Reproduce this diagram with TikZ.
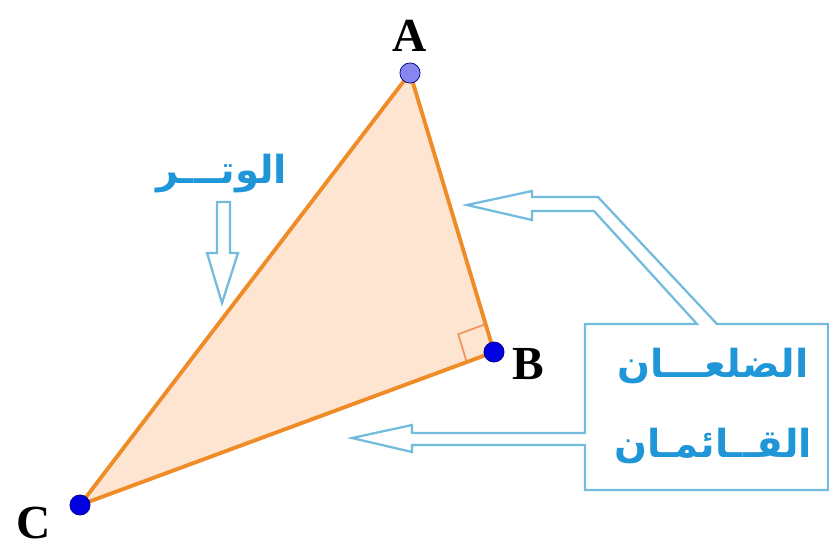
\documentclass[tikz,border=0pt]{standalone}
\usepackage{fontspec}
\setmainfont{Liberation Serif}
\newfontfamily\arabicfont[Script=Arabic]{DejaVu Sans}
\TeXXeTstate=1
\usetikzlibrary{calc}

\definecolor{sidecol}{RGB}{240,140,40}
\definecolor{fillcol}{RGB}{253,229,210}
\definecolor{markcol}{RGB}{240,150,90}
\definecolor{callcol}{RGB}{115,188,222}
\definecolor{textcol}{RGB}{30,150,215}
\definecolor{dotblue}{RGB}{0,0,225}
\definecolor{dotlav}{RGB}{135,135,240}

\begin{document}
\begin{tikzpicture}[x=0.02cm,y=-0.02cm,
  side/.style={draw=sidecol,line width=2.2pt,line join=round},
  vertex/.style={circle,inner sep=0pt,minimum size=11.5pt,draw=dotblue!60!black,line width=0.4pt},
  lbl/.style={font=\fontsize{27}{27}\selectfont\bfseries,inner sep=0pt},
  arab/.style={font=\fontsize{22}{46}\selectfont\arabicfont\bfseries,text=textcol,align=center,inner sep=0pt},
  callout/.style={draw=callcol,line width=1.3pt,line join=miter},
  rightmark/.style={draw=markcol,line width=1pt},
]
\useasboundingbox (0,0) rectangle (829,549);

\coordinate (a) at (410,73);
\coordinate (b) at (494,352);
\coordinate (c) at (80,505);

\fill[fillcol] (a) -- (b) -- (c) -- cycle;
\coordinate (mba) at ($(b)!0.1!(a)$);
\coordinate (mbc) at ($(b)!0.066!(c)$);
\draw[rightmark] (mba) -- ($(mba)+(mbc)-(b)$) -- (mbc);
\draw[side] (a) -- (b) -- (c) -- cycle;

\node[vertex,fill=dotlav] (A) at (a) {};
\node[vertex,fill=dotblue] (B) at (b) {};
\node[vertex,fill=dotblue] (C) at (c) {};

\node[lbl] (labA) at (410,36) {A};
\node[lbl] (labB) at (528,364) {B};
\node[lbl] (labC) at (34,523) {C};

\node[arab] (hyp) at (222,174) {\beginR الوتـــر\endR};
\node[arab] (legs) at (713,406) {\beginR الضلعـــان\endR\\\beginR القــائمـان\endR};

\draw[callout] (217,202) -- (230,202) -- (230,253) -- (238,253) -- (222,303)
  -- (207,253) -- (217,253) -- cycle;

\draw[callout] (828,324) -- (717,324) -- (598,197) -- (532,197) -- (532,191)
  -- (467,205) -- (532,220) -- (532,211) -- (594,211) -- (697,324)
  -- (585,324) -- (585,433) -- (412,433) -- (412,425) -- (352,438)
  -- (412,452) -- (412,445) -- (585,445) -- (585,490) -- (828,490) -- cycle;

\end{tikzpicture}
\end{document}
